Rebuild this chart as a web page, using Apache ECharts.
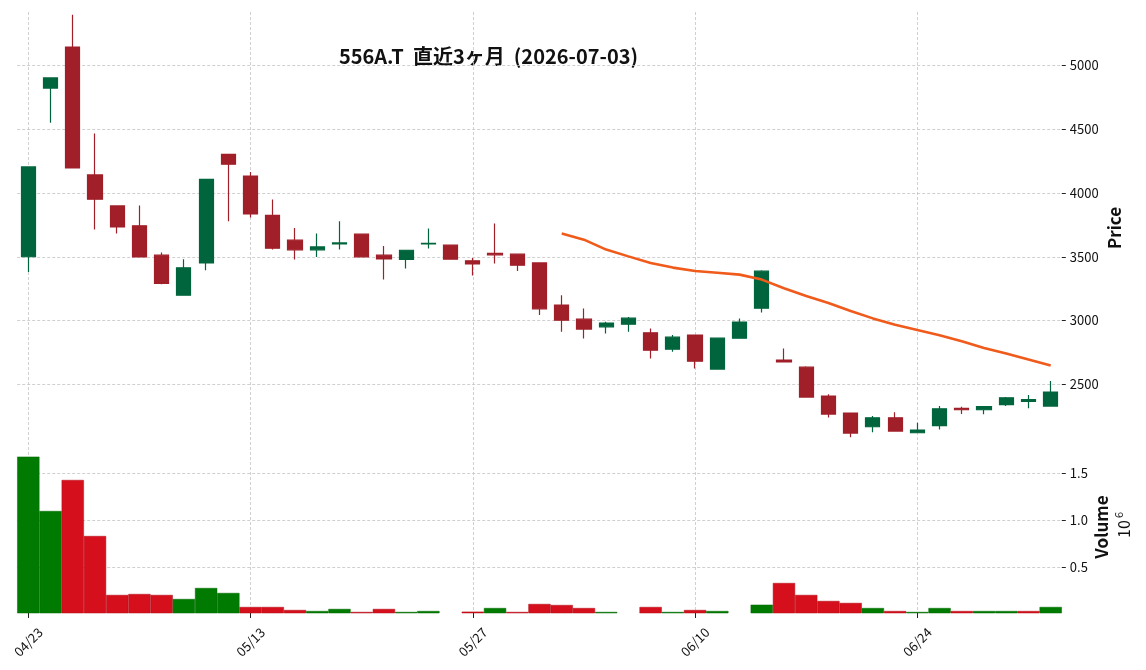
<!DOCTYPE html>
<html>
<head>
<meta charset="utf-8">
<script src="https://cdn.jsdelivr.net/npm/echarts@6/dist/echarts.min.js"></script>
<style>
html,body{margin:0;padding:0;background:#fff;}
#c{width:1146px;height:670px;}
</style>
</head>
<body>
<div id="c"></div>
<script>
var dates = ['04/23','04/24','04/27','04/28','04/30','05/01','05/07','05/08','05/11','05/12','05/13','05/14','05/15','05/18','05/19','05/20','05/21','05/22','05/25','05/26','05/27','05/28','05/29','06/01','06/02','06/03','06/04','06/05','06/08','06/09','06/10','06/11','06/12','06/15','06/16','06/17','06/18','06/19','06/22','06/23','06/24','06/25','06/26','06/29','06/30','07/01','07/02'];
var opens  = [3500,4822,5143,4141,3898,3742,3512,3199,3452,4303,4133,3825,3630,3554,3600,3677,3512,3479,3600,3591,3468,3526,3520,3452,3121,3011,2951,2972,2904,2776,2886,2620,2862,3097,2690,2635,2408,2275,2168,2238,2121,2176,2312,2301,2341,2367,2330];
var closes = [4204,4901,4196,3951,3734,3499,3291,3413,4107,4225,3836,3567,3554,3577,3608,3499,3483,3551,3606,3481,3444,3515,3434,3092,3003,2933,2980,3019,2768,2870,2682,2862,2988,3387,2676,2400,2267,2118,2238,2134,2142,2309,2301,2325,2395,2380,2440];
var lows   = [3381,4551,4196,3713,3682,3499,3285,3194,3395,3779,3807,3557,3479,3499,3557,3499,3322,3408,3565,3481,3353,3447,3389,3043,2912,2860,2899,2912,2703,2755,2625,2620,2862,3064,2676,2400,2241,2085,2124,2129,2121,2147,2267,2265,2330,2312,2330];
var highs  = [4204,4901,5397,4465,3898,3901,3533,3481,4107,4303,4165,3948,3726,3682,3779,3677,3585,3551,3721,3591,3491,3760,3520,3452,3199,3095,2990,3027,2938,2886,2886,2862,3017,3395,2782,2641,2422,2275,2252,2281,2199,2330,2325,2330,2400,2416,2526];
var volumes = [1677000,1099000,1429000,833000,206000,216000,206000,163000,280000,227000,78000,78000,46000,35000,57000,25000,57000,25000,35000,12000,28000,67000,25000,110000,99000,67000,25000,15000,78000,25000,46000,35000,15000,102000,333000,206000,142000,121000,67000,35000,25000,67000,35000,35000,35000,35000,78000];
var ma25 = [null,null,null,null,null,null,null,null,null,null,null,null,null,null,null,null,null,null,null,null,null,null,null,null,3682,3634,3556,3503,3451,3415,3388,3375,3360,3321,3253,3192,3137,3075,3017,2968,2926,2885,2837,2785,2741,2694,2647];
var priceTicks = [2500,3000,3500,4000,4500,5000];
var volumeTicks = [500000,1000000,1500000];
var labelTicks = [0,10,20,30,40];

var UP = '#00643c', DOWN = '#a01f28';
var VUP = '#007a00', VDOWN = '#d5101c';
var FONT = 'Noto Sans CJK JP';

var candleData = dates.map(function(d,i){ return [opens[i], closes[i], lows[i], highs[i]]; });
var volData = volumes.map(function(v,i){
  var up = (i === 0) || closes[i] >= closes[i-1];
  return { value: v, itemStyle: { color: up ? VUP : VDOWN, borderColor: up ? '#006800' : '#b00c16', borderWidth: 0.5 } };
});

var gridLine = { show: true, lineStyle: { color: '#c4c4c4', width: 0.8, type: [3, 2] } };

var chart = echarts.init(document.getElementById('c'), null, { renderer: 'canvas' });
chart.setOption({
  animation: false,
  backgroundColor: '#fff',
  textStyle: { fontFamily: FONT },
  grid: [
    { left: 17.2, right: 84.2, top: 12, height: 428 },
    { left: 17.2, right: 84.2, top: 442, height: 171 }
  ],
  xAxis: [
    { type: 'category', data: dates, gridIndex: 0, boundaryGap: true,
      axisLine: { show: false }, axisLabel: { show: false },
      axisTick: { show: false, alignWithLabel: true, customValues: labelTicks },
      splitLine: Object.assign({ alignWithLabel: true }, gridLine) },
    { type: 'category', data: dates, gridIndex: 1, boundaryGap: true,
      axisLine: { show: false },
      axisTick: { show: true, alignWithLabel: true, customValues: labelTicks, length: 5, lineStyle: { color: '#222', width: 1 } },
      axisLabel: { show: true, customValues: labelTicks, rotate: 45, align: 'center', verticalAlign: 'middle', margin: 29, fontSize: 13, color: '#111', fontFamily: FONT },
      splitLine: Object.assign({ alignWithLabel: true }, gridLine) }
  ],
  yAxis: [
    { type: 'value', gridIndex: 0, position: 'right', min: 2064, max: 5418, scale: true,
      axisLine: { show: false },
      axisTick: { show: true, customValues: priceTicks, length: 4, lineStyle: { color: '#222' } },
      axisLabel: { show: true, customValues: priceTicks, margin: 8, fontSize: 13, color: '#111', fontFamily: FONT,
        formatter: function(v){ return String(v); } },
      splitLine: gridLine },
    { type: 'value', gridIndex: 1, position: 'right', min: 14000, max: 1833000,
      axisLine: { show: false },
      axisTick: { show: true, customValues: volumeTicks, length: 4, lineStyle: { color: '#222' } },
      axisLabel: { show: true, customValues: volumeTicks, margin: 8, fontSize: 13, color: '#111', fontFamily: FONT,
        formatter: function(v){ return (v/1e6).toFixed(1); } },
      splitLine: gridLine }
  ],
  series: [
    { type: 'candlestick', xAxisIndex: 0, yAxisIndex: 0, data: candleData, barWidth: '66%',
      itemStyle: { color: UP, color0: DOWN, borderColor: UP, borderColor0: DOWN, borderWidth: 1.2 } },
    { type: 'line', xAxisIndex: 0, yAxisIndex: 0, data: ma25, showSymbol: false, symbol: 'none',
      lineStyle: { color: '#f05a1a', width: 2.6 }, z: 5 },
    { type: 'bar', xAxisIndex: 1, yAxisIndex: 1, data: volData, barWidth: '100%', barCategoryGap: '0%' }
  ],
  graphic: [
    { type: 'text', x: 488.5, y: 56, style: { text: '556A.T  直近3ヶ月  (2026-07-03)', font: 'bold 20px "Noto Sans CJK JP"', fill: '#111', align: 'center', verticalAlign: 'middle' } },
    { type: 'text', x: 1115, y: 228, rotation: Math.PI/2, style: { text: 'Price', font: 'bold 17px "Noto Sans CJK JP"', fill: '#111', align: 'center', verticalAlign: 'middle' } },
    { type: 'text', x: 1102, y: 527, rotation: Math.PI/2, style: { text: 'Volume', font: 'bold 17px "Noto Sans CJK JP"', fill: '#111', align: 'center', verticalAlign: 'middle' } },
    { type: 'text', x: 1124, y: 529, rotation: Math.PI/2, style: { text: '10', font: '16px "Noto Sans CJK JP"', fill: '#111', align: 'center', verticalAlign: 'middle' } },
    { type: 'text', x: 1119, y: 515, rotation: Math.PI/2, style: { text: '6', font: '11px "Noto Sans CJK JP"', fill: '#111', align: 'center', verticalAlign: 'middle' } }
  ]
});
</script>
</body>
</html>
